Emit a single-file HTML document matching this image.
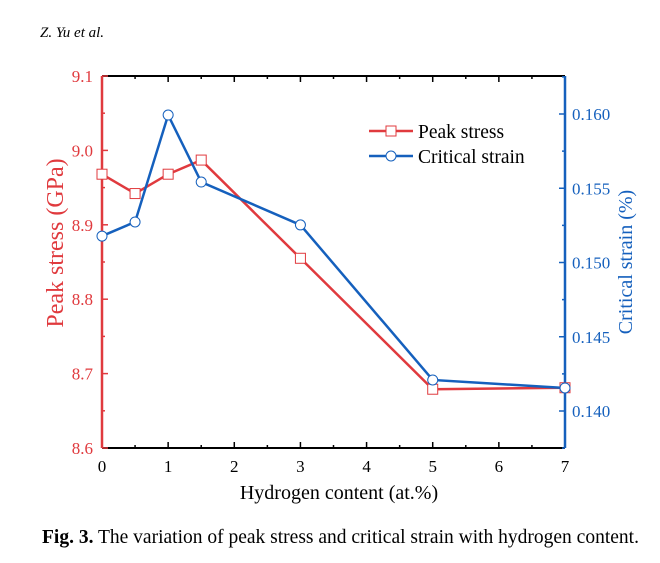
<!DOCTYPE html>
<html><head><meta charset="utf-8"><style>
body{margin:0;background:#fff;width:660px;height:558px;overflow:hidden;font-family:"Liberation Serif",serif}
</style></head><body>
<svg width="660" height="558" xmlns="http://www.w3.org/2000/svg" font-family="Liberation Serif, serif">
<text x="40" y="37" font-size="15" font-style="italic">Z.  Yu et al.</text>
<g id="axes"></g>
<g id="series"></g>
<g>
<line x1="369" y1="131" x2="413" y2="131" stroke="#e03a3e" stroke-width="2.5"/>
<rect x="386" y="126" width="10" height="10" fill="#fff" stroke="#e03a3e"/>
<text x="418" y="138" font-size="19.5">Peak stress</text>
<line x1="369" y1="156" x2="413" y2="156" stroke="#1560bd" stroke-width="2.5"/>
<circle cx="391" cy="156" r="5" fill="#fff" stroke="#1560bd"/>
<text x="418" y="163" font-size="19.5">Critical strain</text>
</g>
<text x="339" y="499" font-size="20" text-anchor="middle">Hydrogen content (at.%)</text>
<text transform="translate(63,243) rotate(-90)" font-size="24" fill="#e03a3e" text-anchor="middle">Peak stress (GPa)</text>
<text transform="translate(632,262) rotate(-90)" font-size="20" fill="#1560bd" text-anchor="middle">Critical strain (%)</text>
<text x="42" y="543" font-size="19.5"><tspan font-weight="bold">Fig. 3.</tspan>  The variation of peak stress and critical strain with hydrogen content.</text>
</svg>
<script>
const xs=[0,0.5,1,1.5,3,5,7];
const peakStress=[8.968,8.942,8.968,8.987,8.855,8.679,8.681];
const criticalStrain=[0.15178,0.15273,0.15993,0.15542,0.15253,0.14209,0.14155];
const xTicks=[0,1,2,3,4,5,6,7];
const yLeftTicks=[8.6,8.7,8.8,8.9,9.0,9.1];
const yRightTicks=[0.140,0.145,0.150,0.155,0.160];
const X0=102,X1=565,YT=76,YB=448;
const sx=v=>X0+(v-0)/7*(X1-X0);
const syL=v=>YB-(v-8.6)/0.5*(YB-YT);
const syR=v=>411-(v-0.140)/0.020*(411-114);
const NS="http://www.w3.org/2000/svg";
const ax=document.getElementById('axes'),se=document.getElementById('series');
function mk(p,tag,at){const e=document.createElementNS(NS,tag);for(const k in at)e.setAttribute(k,at[k]);p.appendChild(e);return e;}
const RED="#e03a3e",BLUE="#1560bd";
let l;
l=mk(ax,'line',{x1:X0,y1:YT,x2:X1,y2:YT,stroke:'#000','stroke-width':2});


l=mk(ax,'line',{x1:X0,y1:YB,x2:X1,y2:YB,stroke:'#000','stroke-width':2});


for(let v=0;v<=7.001;v+=0.5){const x=sx(v),len=Number.isInteger(v)?6:3;
mk(ax,'line',{x1:x,y1:YB,x2:x,y2:YB-len,stroke:'#000','stroke-width':1.5});
mk(ax,'line',{x1:x,y1:YT,x2:x,y2:YT+len,stroke:'#000','stroke-width':1.5});}
xTicks.forEach(v=>{const t=mk(ax,'text',{x:sx(v),y:472,'font-size':17,'text-anchor':'middle'});t.textContent=v;

});
l=mk(ax,'line',{x1:X0,y1:YT,x2:X0,y2:YB,stroke:RED,'stroke-width':2.5});


for(let v=8.6;v<=9.1001;v+=0.05){const y=syL(v);const major=Math.abs(v*10-Math.round(v*10))<0.01;
mk(ax,'line',{x1:X0,y1:y,x2:X0+(major?6:3),y2:y,stroke:RED,'stroke-width':1.5});}
yLeftTicks.forEach(v=>{const t=mk(ax,'text',{x:93,y:syL(v)+6,'font-size':17,'text-anchor':'end',fill:RED});t.textContent=v.toFixed(1);

});
l=mk(ax,'line',{x1:X1,y1:YT,x2:X1,y2:YB,stroke:BLUE,'stroke-width':2.5});


for(let v=0.1375;v<=0.1626;v+=0.0025){const y=syR(v);if(y<YT-1||y>YB+1)continue;const major=Math.abs(v*200-Math.round(v*200))<0.01;
mk(ax,'line',{x1:X1,y1:y,x2:X1-(major?6:3),y2:y,stroke:BLUE,'stroke-width':1.5});}
yRightTicks.forEach(v=>{const t=mk(ax,'text',{x:572,y:syR(v)+6,'font-size':17,fill:BLUE});t.textContent=v.toFixed(3);

});
let p=mk(se,'polyline',{points:xs.map((x,i)=>sx(x)+','+syL(peakStress[i])).join(' '),fill:'none',stroke:RED,'stroke-width':2.5});


p=mk(se,'polyline',{points:xs.map((x,i)=>sx(x)+','+syR(criticalStrain[i])).join(' '),fill:'none',stroke:BLUE,'stroke-width':2.5});


xs.forEach((x,i)=>{const r=mk(se,'rect',{x:sx(x)-5,y:syL(peakStress[i])-5,width:10,height:10,fill:'#fff',stroke:RED});

});
xs.forEach((x,i)=>{const c=mk(se,'circle',{cx:sx(x),cy:syR(criticalStrain[i]),r:5,fill:'#fff',stroke:BLUE});

});
</script>
</body></html>
